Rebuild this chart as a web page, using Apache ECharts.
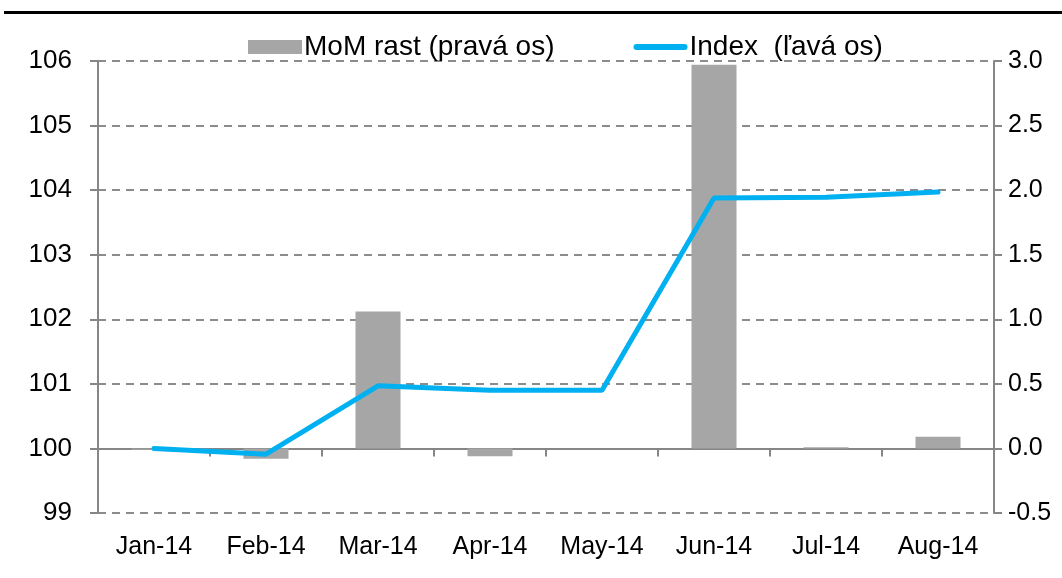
<!DOCTYPE html>
<html><head><meta charset="utf-8">
<script src="https://cdn.jsdelivr.net/npm/echarts@6/dist/echarts.min.js"></script>
<style>html,body{margin:0;padding:0;background:#fff}#c{width:1062px;height:578px}</style>
</head><body><div id="c"></div>
<script>
const categories = ['Jan-14','Feb-14','Mar-14','Apr-14','May-14','Jun-14','Jul-14','Aug-14'];
const momValues = [-0.01, -0.08, 1.06, -0.06, 0.0, 2.97, 0.01, 0.09];
const indexValues = [100.0, 99.91, 100.97, 100.9, 100.9, 103.88, 103.89, 103.97];
const leftTicks = {min: 99, max: 106, interval: 1};
const rightTicks = {min: -0.5, max: 3.0, interval: 0.5};
const FONT = '"Liberation Sans", Arial, sans-serif';
const chart = echarts.init(document.getElementById('c'), null, {renderer: 'canvas'});
chart.setOption({
  animation: false,
  backgroundColor: '#fff',
  textStyle: {fontFamily: FONT},
  graphic: [{type: 'rect', shape: {x: 4, y: 11, width: 1058, height: 3}, style: {fill: '#000'}}],
  legend: {
    left: 243, top: 28, itemGap: 79,
    itemWidth: 54, itemHeight: 14,
    textStyle: {fontFamily: FONT, fontSize: 28, color: '#000', padding: [0,0,0,-3]},
    data: [
      {name: 'MoM rast (pravá os)', icon: 'rect'},
      {name: 'Index  (ľavá os)', icon: 'path://M3,0H51A3,3 0 0 1 51,6H3A3,3 0 0 1 3,0Z'}
    ]
  },
  grid: {left: 98, right: 68, top: 61, bottom: 65, containLabel: false},
  xAxis: {
    type: 'category', data: categories,
    axisLine: {lineStyle: {color: '#868686', width: 2}},
    axisTick: {show: true, alignWithLabel: false, length: 8, lineStyle: {color: '#868686', width: 2}},
    axisLabel: {fontFamily: FONT, fontSize: 25, color: '#000', margin: 22, interval: 0},
    splitLine: {show: false}
  },
  yAxis: [{
    type: 'value', position: 'left', min: leftTicks.min, max: leftTicks.max, interval: leftTicks.interval,
    axisLine: {show: true, lineStyle: {color: '#868686', width: 2}},
    axisTick: {show: true, length: 8, lineStyle: {color: '#868686', width: 2}},
    axisLabel: {fontFamily: FONT, fontSize: 26, color: '#000', margin: 26},
    splitLine: {show: true, lineStyle: {color: '#8c8c8c', type: [8, 6], width: 2}}
  }, {
    type: 'value', position: 'right', min: rightTicks.min, max: rightTicks.max, interval: rightTicks.interval,
    axisLine: {show: true, lineStyle: {color: '#868686', width: 2}},
    axisTick: {show: true, length: 8, lineStyle: {color: '#868686', width: 2}},
    axisLabel: {fontFamily: FONT, fontSize: 25, color: '#000', margin: 14, formatter: v => v.toFixed(1)},
    splitLine: {show: false}
  }],
  series: [{
    name: 'MoM rast (pravá os)', type: 'bar', yAxisIndex: 1, data: momValues,
    barWidth: 45, itemStyle: {color: '#A6A6A6'}
  }, {
    name: 'Index  (ľavá os)', type: 'line', yAxisIndex: 0, data: indexValues,
    symbol: 'none', lineStyle: {color: '#00B0F0', width: 5, cap: 'round'}, itemStyle: {color: '#00B0F0'}
  }]
});
</script></body></html>
